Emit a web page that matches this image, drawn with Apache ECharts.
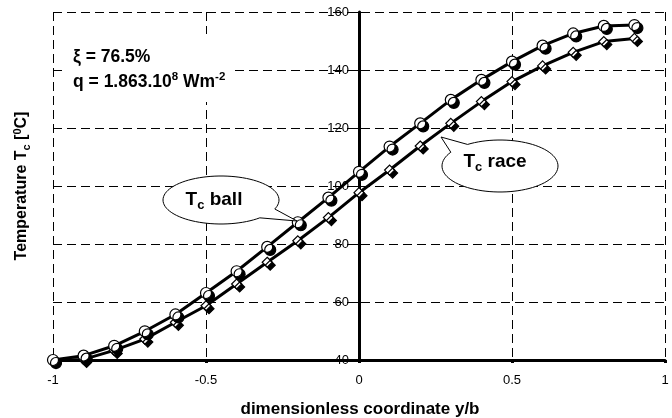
<!DOCTYPE html>
<html lang="en">
<head>
    <meta charset="utf-8">
    <title>Temperature Tc</title>
    <script src="https://cdn.jsdelivr.net/npm/echarts@6/dist/echarts.min.js"></script>
    <style>
        html, body {margin: 0; padding: 0; background: #fff;}
        #chart {width: 672px; height: 418px;}
    </style>
</head>
<body>
<div id="chart"></div>
<script type="text/javascript">
    // dimensionless coordinate y/b
    const coordY = [-1, -0.9, -0.8, -0.7, -0.6, -0.5, -0.4, -0.3, -0.2, -0.1,
        0, 0.1, 0.2, 0.3, 0.4, 0.5, 0.6, 0.7, 0.8, 0.9];
    // Tc ball
    const tcBall = [40, 41.5, 44.9, 49.9, 55.7, 63.1, 70.6, 79.0, 87.5, 96.0,
        104.9, 113.6, 121.6, 129.7, 136.6, 142.9, 148.4, 152.6, 155.2, 155.5];
    // Tc race
    const tcRace = [39.8, 40.2, 43.3, 47.2, 53.0, 58.7, 66.2, 73.7, 81.1, 89.1,
        97.7, 105.5, 113.8, 121.6, 129.1, 136.0, 141.4, 146.1, 149.8, 150.9];
    const xTicks = [-1, -0.5, 0, 0.5, 1];
    const yTicks = [40, 60, 80, 100, 120, 140, 160];

    const FONT = "'Liberation Sans', Arial, sans-serif";
    const GRID_LEFT = 53, GRID_RIGHT = 7;
    const PLOT_W = 672 - GRID_LEFT - GRID_RIGHT;

    function pairs(xs, ys)
    {
        return xs.map(function (x, i) { return [x, ys[i]]; });
    }

    // speech bubble outline: ellipse with a gap (a0..a1 degrees) and a tail tip
    function bubble(cx, cy, rx, ry, a0, a1, tx, ty)
    {
        const pts = [[tx, ty]];
        for (let a = a1; a <= a0 + 360; a += 4) {
            const r = a * Math.PI / 180;
            pts.push([cx + rx * Math.cos(r), cy + ry * Math.sin(r)]);
        }
        const r0 = (a0 + 360) * Math.PI / 180;
        pts.push([cx + rx * Math.cos(r0), cy + ry * Math.sin(r0)]);
        return pts;
    }

    const dash = {type: [9, 5], color: '#000', width: 1};
    const chart = echarts.init(document.getElementById('chart'));

    const option = {
        animation: false,
        backgroundColor: '#fff',
        grid: {left: GRID_LEFT, right: GRID_RIGHT, top: 12, bottom: 58, containLabel: false},
        xAxis: {
            type: 'value',
            min: xTicks[0],
            max: xTicks[xTicks.length - 1],
            interval: 0.5,
            axisLine: {onZero: false, lineStyle: {color: '#000', width: 3}},
            axisTick: {show: true, length: 3, lineStyle: {color: '#000', width: 3}},
            axisLabel: {
                color: '#000', fontSize: 13, fontFamily: FONT, margin: 14,
                formatter: function (v) { return String(v); }
            },
            splitLine: {show: true, lineStyle: dash}
        },
        yAxis: {
            type: 'value',
            min: yTicks[0],
            max: yTicks[yTicks.length - 1],
            interval: 20,
            // the vertical axis sits at y/b = 0
            offset: -PLOT_W / 2,
            axisLine: {onZero: false, lineStyle: {color: '#000', width: 3}},
            axisTick: {show: true, length: 6, lineStyle: {color: '#000', width: 1}},
            axisLabel: {color: '#000', fontSize: 13, fontFamily: FONT, margin: 10,
                showMinLabel: true},
            splitLine: {show: true, lineStyle: dash}
        },
        series: [
            {
                name: 'Tc race',
                type: 'line',
                data: pairs(coordY, tcRace),
                symbol: 'diamond',
                symbolSize: 10,
                clip: false,
                z: 3,
                lineStyle: {color: '#000', width: 3},
                itemStyle: {
                    color: '#fff', borderColor: '#000', borderWidth: 1.2,
                    shadowColor: '#000', shadowBlur: 0, shadowOffsetX: 3, shadowOffsetY: 3
                }
            },
            {
                name: 'Tc ball',
                type: 'line',
                data: pairs(coordY, tcBall),
                symbol: 'circle',
                symbolSize: 11,
                clip: false,
                z: 4,
                lineStyle: {color: '#000', width: 3},
                itemStyle: {
                    color: '#fff', borderColor: '#000', borderWidth: 1.2,
                    shadowColor: '#000', shadowBlur: 0, shadowOffsetX: 3, shadowOffsetY: 3
                }
            }
        ],
        graphic: [
            {
                type: 'polygon', z: 100,
                shape: {points: bubble(221, 200, 58, 24, 22, 48, 297, 221)},
                style: {fill: '#fff', stroke: '#000', lineWidth: 1}
            },
            {
                type: 'text', z: 101, x: 214, y: 200,
                style: {
                    text: '{b|T}{s|c}{b| ball}',
                    align: 'center', verticalAlign: 'middle',
                    rich: {
                        b: {fontSize: 19, fontWeight: 'bold', fontFamily: FONT, lineHeight: 24, fill: '#000'},
                        s: {fontSize: 13, fontWeight: 'bold', fontFamily: FONT, lineHeight: 13,
                            verticalAlign: 'bottom', fill: '#000'}
                    }
                }
            },
            {
                type: 'polygon', z: 100,
                shape: {points: bubble(500, 166, 58, 26, 212, 236, 441, 137)},
                style: {fill: '#fff', stroke: '#000', lineWidth: 1}
            },
            {
                type: 'text', z: 101, x: 495, y: 162,
                style: {
                    text: '{b|T}{s|c}{b| race}',
                    align: 'center', verticalAlign: 'middle',
                    rich: {
                        b: {fontSize: 19, fontWeight: 'bold', fontFamily: FONT, lineHeight: 24, fill: '#000'},
                        s: {fontSize: 13, fontWeight: 'bold', fontFamily: FONT, lineHeight: 13,
                            verticalAlign: 'bottom', fill: '#000'}
                    }
                }
            },
            {
                type: 'rect', z: 99,
                shape: {x: 66, y: 34, width: 166, height: 68},
                style: {fill: '#fff'}
            },
            {
                type: 'text', z: 101, x: 73, y: 57,
                style: {
                    text: '\u03be = 76.5%',
                    font: 'bold 17.5px ' + FONT, fill: '#000', verticalAlign: 'middle'
                }
            },
            {
                type: 'text', z: 101, x: 73, y: 82,
                style: {
                    text: '{b|q = 1.863.10}{p|8}{b| Wm}{p|-2}',
                    verticalAlign: 'middle',
                    rich: {
                        b: {fontSize: 17.5, fontWeight: 'bold', fontFamily: FONT, lineHeight: 22, fill: '#000'},
                        p: {fontSize: 11.5, fontWeight: 'bold', fontFamily: FONT, lineHeight: 11,
                            verticalAlign: 'top', fill: '#000'}
                    }
                }
            },
            {
                type: 'text', z: 101, x: 22, y: 186, rotation: Math.PI / 2,
                style: {
                    text: '{b|Temperature T}{s|c}{b| [}{p|0}{b|C]}',
                    align: 'center', verticalAlign: 'middle',
                    rich: {
                        b: {fontSize: 16, fontWeight: 'bold', fontFamily: FONT, lineHeight: 20, fill: '#000'},
                        s: {fontSize: 11, fontWeight: 'bold', fontFamily: FONT, lineHeight: 11,
                            verticalAlign: 'bottom', fill: '#000'},
                        p: {fontSize: 11, fontWeight: 'bold', fontFamily: FONT, lineHeight: 11,
                            verticalAlign: 'top', fill: '#000'}
                    }
                }
            },
            {
                type: 'text', z: 101, x: 360, y: 409,
                style: {
                    text: 'dimensionless coordinate y/b',
                    font: 'bold 17px ' + FONT, fill: '#000',
                    align: 'center', verticalAlign: 'middle'
                }
            }
        ]
    };
    chart.setOption(option);
</script>
</body>
</html>
